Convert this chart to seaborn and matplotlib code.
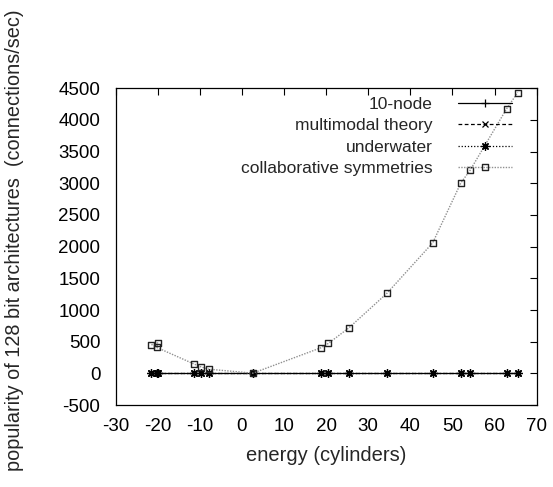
import matplotlib
matplotlib.use("Agg")
import matplotlib.pyplot as plt
from matplotlib.path import Path
import seaborn as sns
import pandas as pd

sns.set_theme(style="white")
plt.rcParams['font.family'] = ['Liberation Sans', 'DejaVu Sans']
plt.rcParams['axes.unicode_minus'] = False

energy = [-21.5, -20.0, -20.2, -11.3, -9.7, -7.9, 2.6, 18.7, 20.5, 25.4, 34.4, 45.3, 52.0, 54.2, 62.9, 65.5]
ten_node = [2, 2, 2, 2, 2, 2, 2, 2, 2, 2, 2, 2, 2, 2, 2, 2]
multimodal = [3, 3, 3, 3, 3, 3, 3, 3, 3, 3, 3, 3, 3, 3, 3, 3]
underwater = [1, 1, 1, 1, 1, 1, 1, 1, 1, 1, 1, 1, 1, 1, 1, 1]
collab = [451, 482, 410, 147, 104, 68, 5, 404, 473, 719, 1262, 2060, 3006, 3206, 4179, 4431]

series_names = ["10-node", "multimodal theory", "underwater", "collaborative symmetries"]
xticks = [-30, -20, -10, 0, 10, 20, 30, 40, 50, 60, 70]
yticks = [-500, 0, 500, 1000, 1500, 2000, 2500, 3000, 3500, 4000, 4500]

df = pd.DataFrame({"energy": energy, "10-node": ten_node, "multimodal theory": multimodal,
                   "underwater": underwater, "collaborative symmetries": collab})

# square with a dot inside (gnuplot-style box point)
o, i = 1.0, 0.12
box_dot = Path(
    [(-o, -o), (o, -o), (o, o), (-o, o), (-o, -o),
     (-i, -i), (i, -i), (i, i), (-i, i), (-i, -i)],
    [Path.MOVETO, Path.LINETO, Path.LINETO, Path.LINETO, Path.CLOSEPOLY,
     Path.MOVETO, Path.LINETO, Path.LINETO, Path.LINETO, Path.CLOSEPOLY])

fig = plt.figure(figsize=(5.53, 4.87), dpi=100)
ax = fig.add_axes([0.209, 0.168, 0.7615, 0.651])

styles = {
    "10-node": dict(color="black", linestyle="-", marker="+", markersize=6, linewidth=0.9,
                    markeredgecolor="black", markeredgewidth=0.9),
    "multimodal theory": dict(color="black", linestyle=(0, (3, 2)), marker="x", markersize=4.5, linewidth=0.9,
                              markeredgecolor="black", markeredgewidth=0.9),
    "underwater": dict(color="black", linestyle=(0, (1, 1.5)), marker=(8, 2, 0), markersize=6, linewidth=0.9,
                       markeredgecolor="black", markeredgewidth=0.9),
    "collaborative symmetries": dict(color="#909090", linestyle=(0, (1, 1)), marker=box_dot, markersize=4.3,
                                     markerfacecolor="none", markeredgecolor="#222222",
                                     markeredgewidth=1.0, linewidth=1.0),
}

for name in series_names:
    sns.lineplot(data=df, x="energy", y=name, ax=ax, sort=False, label=name, **styles[name])

ax.set_xlim(-30, 70)
ax.set_ylim(-500, 4500)
ax.set_xticks(xticks)
ax.set_yticks(yticks)
ax.tick_params(direction="in", length=5, width=0.8, top=True, right=True, labelsize=13.5, colors="black")
ax.tick_params(axis="x", pad=9)
ax.tick_params(axis="y", pad=11)
for s in ax.spines.values():
    s.set_color("black")
    s.set_linewidth(0.9)
ax.set_xlabel("energy (cylinders)", fontsize=14.5, labelpad=8)
ax.set_ylabel("popularity of 128 bit architectures  (connections/sec)", fontsize=14.3)
ax.yaxis.set_label_coords(-0.218, 0.52)

leg = ax.legend(loc="upper right", bbox_to_anchor=(0.941, 0.972), frameon=False, markerfirst=False,
                fontsize=12.5, handlelength=3.1, handletextpad=1.45, labelspacing=0.35, numpoints=1,
                borderaxespad=0.0, borderpad=0.0)
for t in leg.get_texts():
    t.set_ha("right")
leg._legend_box.align = "right"

fig.savefig("out.png", dpi=100)
